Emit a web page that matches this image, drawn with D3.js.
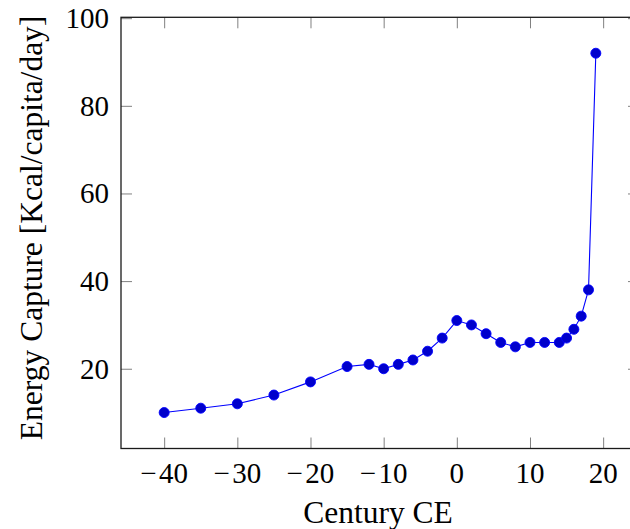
<!DOCTYPE html>
<html>
<head>
<meta charset="utf-8">
<script src="https://cdn.jsdelivr.net/npm/d3@7"></script>
<style>
  html, body { margin: 0; padding: 0; background: #fff; }
  svg { display: block; }
  text { font-family: "Liberation Serif", "Times New Roman", serif; fill: #000; }
</style>
</head>
<body>
<svg id="chart" width="630" height="529"></svg>
<script>
// Data
const centuries = [-40, -35, -30, -25, -20, -15, -12, -10, -8, -6, -4, -2, 0, 2, 4, 6, 8, 10, 12, 14, 15, 16, 17, 18, 19];
const energy    = [10, 11, 12, 14, 17, 20.5, 21, 20, 21, 22, 24, 27, 31, 30, 28, 26, 25, 26, 26, 26, 27, 29, 32, 38, 92];
const xTicks = [-40, -30, -20, -10, 0, 10, 20];
const yTicks = [20, 40, 60, 80, 100];
const xLabel = "Century CE";
const yLabel = "Energy Capture [Kcal/capita/day]";

(function () {
const svg = d3.select("#chart");
const mLeft = 121, mRight = 639, mTop = 17.3, mBottom = 448.5;

// enlarge limits by 10% like pgfplots
const xExt = d3.extent(centuries), yExt = d3.extent(energy);
const xPad = (xExt[1] - xExt[0]) * 0.1, yPad = (yExt[1] - yExt[0]) * 0.1;
const x = d3.scaleLinear().domain([xExt[0] - xPad, xExt[1] + xPad]).range([mLeft, mRight]);
const y = d3.scaleLinear().domain([yExt[0] - yPad, yExt[1] + yPad]).range([mBottom, mTop]);

const fontSize = 29;
const labelSize = 31.5;
const tickLen = 11;
const tickColor = "#808080";

const xAxisB = d3.axisBottom(x).tickValues(xTicks).tickSize(-tickLen).tickFormat("");
const xAxisT = d3.axisTop(x).tickValues(xTicks).tickSize(-tickLen).tickFormat("");
const yAxisL = d3.axisLeft(y).tickValues(yTicks).tickSize(-tickLen).tickFormat("");
const yAxisR = d3.axisRight(y).tickValues(yTicks).tickSize(-tickLen).tickFormat("");

function styleAxis(g) {
  g.select(".domain").remove();
  g.selectAll(".tick line").attr("stroke", tickColor).attr("stroke-width", 1);
}
svg.append("g").attr("transform", `translate(0,${mBottom})`).call(xAxisB).call(styleAxis);
svg.append("g").attr("transform", `translate(0,${mTop})`).call(xAxisT).call(styleAxis);
svg.append("g").attr("transform", `translate(${mLeft},0)`).call(yAxisL).call(styleAxis);
svg.append("g").attr("transform", `translate(${mRight},0)`).call(yAxisR).call(styleAxis);

svg.append("rect")
  .attr("x", mLeft).attr("y", mTop)
  .attr("width", mRight - mLeft).attr("height", mBottom - mTop)
  .attr("fill", "none").attr("stroke", "#1a1a1a").attr("stroke-width", 1.3);

const fmt = d => (d < 0 ? "\u2212\u200A" + Math.abs(d) : String(d));
svg.append("g").selectAll("text").data(xTicks).join("text")
  .attr("x", d => x(d)).attr("y", 483)
  .attr("text-anchor", "middle")
  .attr("font-size", fontSize)
  .text(fmt);
svg.append("g").selectAll("text").data(yTicks).join("text")
  .attr("x", 109).attr("y", d => y(d) + 10)
  .attr("text-anchor", "end")
  .attr("font-size", fontSize)
  .text(fmt);

svg.append("text")
  .attr("x", 378).attr("y", 523)
  .attr("text-anchor", "middle").attr("font-size", labelSize)
  .text(xLabel);
svg.append("text")
  .attr("transform", `translate(42,${(mTop + mBottom) / 2 - 5}) rotate(-90)`)
  .attr("text-anchor", "middle").attr("font-size", labelSize)
  .text(yLabel);

const pts = centuries.map((c, i) => [c, energy[i]]);
svg.append("path")
  .datum(pts)
  .attr("fill", "none")
  .attr("stroke", "#0000ff")
  .attr("stroke-width", 1.1)
  .attr("d", d3.line().x(d => x(d[0])).y(d => y(d[1])));

svg.append("g").selectAll("circle").data(pts).join("circle")
  .attr("cx", d => x(d[0])).attr("cy", d => y(d[1]))
  .attr("r", 5)
  .attr("fill", "#0000cc")
  .attr("stroke", "#0000ff")
  .attr("stroke-width", 0.9);
})();
</script>
</body>
</html>
